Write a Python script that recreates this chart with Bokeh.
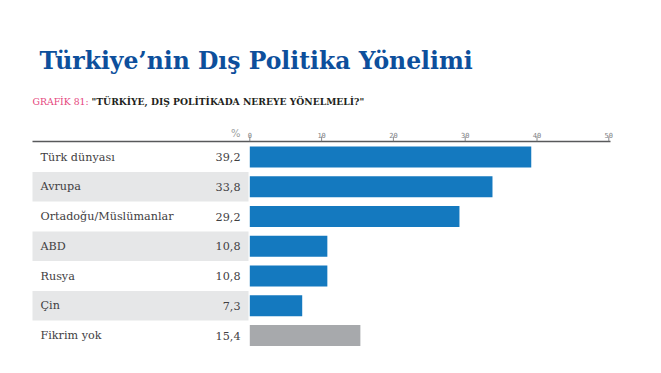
from bokeh.plotting import figure
from bokeh.models import Range1d, ColumnDataSource
from bokeh.core.properties import value
from bokeh.embed import file_html
from bokeh.resources import INLINE

# ---------------- data ----------------
categories = ["Türk dünyası", "Avrupa", "Ortadoğu/Müslümanlar", "ABD", "Rusya", "Çin", "Fikrim yok"]
percentages = [39.2, 33.8, 29.2, 10.8, 10.8, 7.3, 15.4]
value_labels = ["39,2", "33,8", "29,2", "10,8", "10,8", "7,3", "15,4"]
tick_values = [0, 10, 20, 30, 40, 50]
tick_labels = ["0", "10", "20", "30", "40", "50"]
title_text = "Türkiye’nin Dış Politika Yönelimi"
subtitle_tag = "GRAFİK 81:"
subtitle_text = "\"TÜRKİYE, DIŞ POLİTİKADA NEREYE YÖNELMELİ?\""

# ---------------- layout helpers (page pixels -> data space) ----------------
W, H = 645, 357
OFF = 0                   # where the canvas starts on the page
X0, XS = 249.3, 7.18      # page x of value 0, px per percent
Y0, YS = 156.5, 29.75     # page y of first row centre, px per row


def px(x):
    return (x - X0) / XS


def py(y):
    return (y - Y0) / YS


p = figure(width=W, height=H, output_backend="svg", toolbar_location=None,
           x_range=Range1d(px(OFF), px(OFF + W)), y_range=Range1d(py(OFF + H), py(OFF)),
           min_border=0, outline_line_color=None)
p.axis.visible = False
p.grid.visible = False
p.background_fill_color = "white"
p.border_fill_color = "white"

rows = list(range(len(categories)))
bar_colors = ["#a7a9ac" if c == "Fikrim yok" else "#1479bf" for c in categories]
src = ColumnDataSource(dict(y=rows, cat=categories, v=percentages, vl=value_labels, color=bar_colors))

# alternating grey bands behind label/value columns
band_rows = [r for r in rows if r % 2 == 1]
p.hbar(y=band_rows, left=px(32), right=px(248), height=0.985,
       fill_color="#e6e7e8", line_color=None)

# bars
p.hbar(y="y", left=0, right="v", height=0.705, source=src,
       fill_color="color", line_color=None)

# category labels
p.text(x=px(40), y="y", text="cat", source=src, text_font=value("DejaVu Serif"),
       text_font_size="11.2px", text_color="#414042", text_baseline="middle", text_align="left")
# value labels
p.text(x=px(240), y="y", text="vl", source=src, text_font=value("DejaVu Serif"),
       text_font_size="11.2px", text_color="#414042", text_baseline="middle", text_align="right")

# top axis line, ticks and labels
p.segment(x0=[px(32)], y0=[py(141)], x1=[px(610)], y1=[py(141)], line_color="#58595b", line_width=1.5)
p.segment(x0=tick_values, y0=py(136), x1=tick_values, y1=py(141), line_color="#6d6e71", line_width=0.8)
p.text(x=tick_values, y=py(137.5), text=tick_labels, text_font=value("DejaVu Sans Mono"),
       text_font_size="7px", text_color="#808285", text_align="center", text_baseline="bottom")
p.text(x=[px(240)], y=[py(133)], text=["%"], text_font=value("DejaVu Sans"),
       text_font_size="10px", text_color="#9d9fa2", text_align="right", text_baseline="alphabetic")

# title & subtitle
p.text(x=[px(39)], y=[py(60)], text=[title_text], text_font=value("DejaVu Serif"),
       text_font_style="bold", text_font_size="23.5px", text_color="#0d4f9c",
       text_align="left", text_baseline="alphabetic")
p.text(x=[px(32)], y=[py(101)], text=[subtitle_tag], text_font=value("DejaVu Serif"),
       text_font_size="9.3px", text_color="#e5457d", text_align="left", text_baseline="alphabetic")
p.text(x=[px(91)], y=[py(101)], text=[subtitle_text], text_font=value("DejaVu Serif"),
       text_font_style="bold", text_font_size="9.2px", text_color="#231f20",
       text_align="left", text_baseline="alphabetic")

open("out.html", "w").write(file_html(p, INLINE))
